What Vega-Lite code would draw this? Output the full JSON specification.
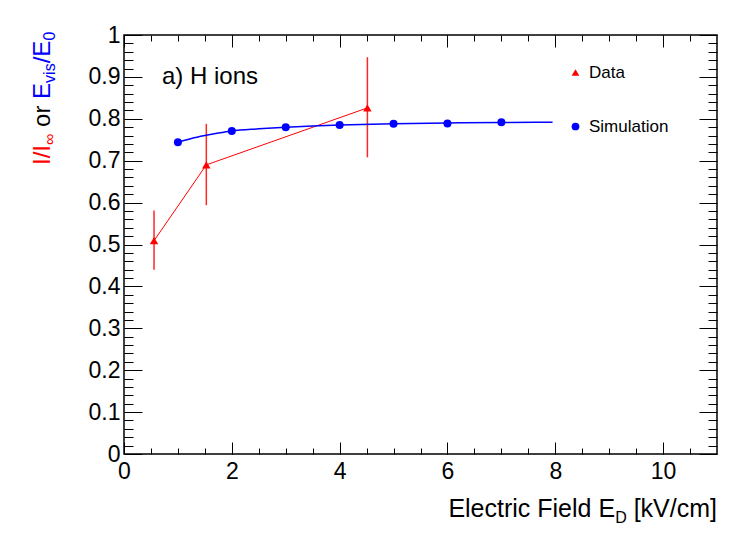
{
  "$schema": "https://vega.github.io/schema/vega-lite/v6.json",
  "width": 593,
  "height": 419,
  "autosize": {"type": "none"},
  "padding": {"left": 124, "top": 35, "right": 33, "bottom": 82},
  "background": "white",
  "datasets": {
    "measured": [
      {"E": 0.557, "R": 0.509, "lo": 0.440, "hi": 0.581, "series": "Data"},
      {"E": 1.527, "R": 0.690, "lo": 0.594, "hi": 0.788, "series": "Data"},
      {"E": 4.515, "R": 0.826, "lo": 0.708, "hi": 0.947, "series": "Data"}
    ],
    "sim": [
      {"E": 1, "R": 0.744, "series": "Simulation"},
      {"E": 2, "R": 0.771, "series": "Simulation"},
      {"E": 3, "R": 0.780, "series": "Simulation"},
      {"E": 4, "R": 0.785, "series": "Simulation"},
      {"E": 5, "R": 0.788, "series": "Simulation"},
      {"E": 6, "R": 0.789, "series": "Simulation"},
      {"E": 7, "R": 0.792, "series": "Simulation"}
    ],
    "fit": [
      {"E": 1.0, "R": 0.744},
      {"E": 1.25, "R": 0.753},
      {"E": 1.5, "R": 0.760},
      {"E": 1.75, "R": 0.766},
      {"E": 2.0, "R": 0.771},
      {"E": 2.5, "R": 0.776},
      {"E": 3.0, "R": 0.780},
      {"E": 3.5, "R": 0.783},
      {"E": 4.0, "R": 0.785},
      {"E": 5.0, "R": 0.788},
      {"E": 6.0, "R": 0.790},
      {"E": 7.0, "R": 0.791},
      {"E": 7.95, "R": 0.792}
    ]
  },
  "config": {
    "font": "Liberation Sans",
    "view": {"stroke": "black", "strokeWidth": 1.5},
    "axis": {
      "grid": false,
      "domain": false,
      "labelFont": "Liberation Sans",
      "labelFontSize": 23,
      "labelColor": "black",
      "tickColor": "black",
      "tickWidth": 1,
      "labelFlush": false,
      "labelOverlap": false
    }
  },
  "resolve": {"axis": {"x": "independent", "y": "independent"}},
  "layer": [
    {
      "data": {"name": "measured"},
      "mark": {"type": "rule", "color": "#ff0000", "strokeWidth": 1.5, "opacity": 0.85},
      "encoding": {
        "x": {"field": "E", "type": "quantitative", "scale": {"domain": [0, 11], "nice": false, "zero": false},
              "axis": {"orient": "bottom", "title": null, "values": [0, 2, 4, 6, 8, 10], "tickSize": -12, "labelPadding": 18, "format": "~f"}},
        "y": {"field": "lo", "type": "quantitative", "scale": {"domain": [0, 1], "nice": false, "zero": false},
              "axis": {"orient": "left", "title": null, "values": [0, 0.1, 0.2, 0.3, 0.4, 0.5, 0.6, 0.7, 0.8, 0.9, 1], "tickSize": -18, "labelPadding": 22, "format": "~f"}},
        "y2": {"field": "hi"}
      }
    },
    {
      "data": {"name": "measured"},
      "mark": {"type": "line", "color": "#ff0000", "strokeWidth": 1},
      "encoding": {
        "x": {"field": "E", "type": "quantitative",
              "axis": {"orient": "bottom", "title": null, "labels": false, "tickSize": -6,
                       "values": [0.5, 1, 1.5, 2, 2.5, 3, 3.5, 4, 4.5, 5, 5.5, 6, 6.5, 7, 7.5, 8, 8.5, 9, 9.5, 10, 10.5]}},
        "y": {"field": "R", "type": "quantitative",
              "axis": {"orient": "left", "title": null, "labels": false, "tickSize": -9,
                       "values": [0.02, 0.04, 0.06, 0.08, 0.12, 0.14, 0.16, 0.18, 0.22, 0.24, 0.26, 0.28, 0.32, 0.34, 0.36, 0.38, 0.42, 0.44, 0.46, 0.48, 0.52, 0.54, 0.56, 0.58, 0.62, 0.64, 0.66, 0.68, 0.72, 0.74, 0.76, 0.78, 0.82, 0.84, 0.86, 0.88, 0.92, 0.94, 0.96, 0.98]}}
      }
    },
    {
      "data": {"name": "fit"},
      "mark": {"type": "line", "color": "#0000ff", "strokeWidth": 1.5, "interpolate": "monotone"},
      "encoding": {
        "x": {"field": "E", "type": "quantitative",
              "axis": {"orient": "top", "title": null, "labels": false, "tickSize": -12, "values": [0, 2, 4, 6, 8, 10]}},
        "y": {"field": "R", "type": "quantitative",
              "axis": {"orient": "right", "title": null, "labels": false, "tickSize": -18, "values": [0, 0.1, 0.2, 0.3, 0.4, 0.5, 0.6, 0.7, 0.8, 0.9, 1]}}
      }
    },
    {
      "data": {"name": "sim"},
      "mark": {"type": "point", "filled": true, "opacity": 1, "size": 64},
      "encoding": {
        "x": {"field": "E", "type": "quantitative",
              "axis": {"orient": "top", "title": null, "labels": false, "tickSize": -6,
                       "values": [0.5, 1, 1.5, 2, 2.5, 3, 3.5, 4, 4.5, 5, 5.5, 6, 6.5, 7, 7.5, 8, 8.5, 9, 9.5, 10, 10.5]}},
        "y": {"field": "R", "type": "quantitative",
              "axis": {"orient": "right", "title": null, "labels": false, "tickSize": -9,
                       "values": [0.02, 0.04, 0.06, 0.08, 0.12, 0.14, 0.16, 0.18, 0.22, 0.24, 0.26, 0.28, 0.32, 0.34, 0.36, 0.38, 0.42, 0.44, 0.46, 0.48, 0.52, 0.54, 0.56, 0.58, 0.62, 0.64, 0.66, 0.68, 0.72, 0.74, 0.76, 0.78, 0.82, 0.84, 0.86, 0.88, 0.92, 0.94, 0.96, 0.98]}},
        "color": {"field": "series", "type": "nominal",
                  "scale": {"domain": ["Data", "Simulation"], "range": ["#ff0000", "#0000ff"]},
                  "legend": {"title": null, "orient": "none", "legendX": 443, "legendY": 29, "padding": 0, "labelFont": "Liberation Sans", "labelFontSize": 17, "labelColor": "black", "labelOffset": 5, "rowPadding": 36, "symbolSize": 60, "symbolStrokeWidth": 0}},
        "shape": {"field": "series", "type": "nominal",
                  "scale": {"domain": ["Data", "Simulation"], "range": ["triangle-up", "circle"]},
                  "legend": {"title": null, "orient": "none", "legendX": 443, "legendY": 29, "padding": 0, "labelFont": "Liberation Sans", "labelFontSize": 17, "labelColor": "black", "labelOffset": 5, "rowPadding": 36, "symbolSize": 60, "symbolStrokeWidth": 0}}
      }
    },
    {
      "data": {"name": "measured"},
      "mark": {"type": "point", "filled": true, "opacity": 1, "size": 70},
      "encoding": {
        "x": {"field": "E", "type": "quantitative", "axis": null},
        "y": {"field": "R", "type": "quantitative", "axis": null},
        "color": {"field": "series", "type": "nominal",
                  "legend": {"title": null, "orient": "none", "legendX": 443, "legendY": 29, "padding": 0, "labelFont": "Liberation Sans", "labelFontSize": 17, "labelColor": "black", "labelOffset": 5, "rowPadding": 36, "symbolSize": 60, "symbolStrokeWidth": 0}},
        "shape": {"field": "series", "type": "nominal",
                  "legend": {"title": null, "orient": "none", "legendX": 443, "legendY": 29, "padding": 0, "labelFont": "Liberation Sans", "labelFontSize": 17, "labelColor": "black", "labelOffset": 5, "rowPadding": 36, "symbolSize": 60, "symbolStrokeWidth": 0}}
      }
    },
    {
      "data": {"values": [{}]},
      "mark": {"type": "text", "text": "a) H ions", "font": "Liberation Sans", "fontSize": 24, "color": "black", "align": "left", "baseline": "alphabetic"},
      "encoding": {"x": {"datum": 0.705, "type": "quantitative", "axis": null}, "y": {"datum": 0.883, "type": "quantitative", "axis": null}}
    },
    {
      "data": {"values": [{}]},
      "mark": {"type": "text", "text": "[kV/cm]", "font": "Liberation Sans", "fontSize": 25, "color": "black", "align": "right", "baseline": "alphabetic"},
      "encoding": {"x": {"datum": 11, "type": "quantitative", "axis": null}, "y": {"datum": -0.1504, "type": "quantitative", "axis": null}}
    },
    {
      "data": {"values": [{}]},
      "mark": {"type": "text", "text": "D", "font": "Liberation Sans", "fontSize": 16, "color": "black", "align": "right", "baseline": "alphabetic", "dx": -90.3, "dy": 6},
      "encoding": {"x": {"datum": 11, "type": "quantitative", "axis": null}, "y": {"datum": -0.1504, "type": "quantitative", "axis": null}}
    },
    {
      "data": {"values": [{}]},
      "mark": {"type": "text", "text": "Electric Field E", "font": "Liberation Sans", "fontSize": 25, "color": "black", "align": "right", "baseline": "alphabetic", "dx": -101.9},
      "encoding": {"x": {"datum": 11, "type": "quantitative", "axis": null}, "y": {"datum": -0.1504, "type": "quantitative", "axis": null}}
    },
    {
      "data": {"values": [{}]},
      "mark": {"type": "text", "text": "I/I", "font": "Liberation Sans", "fontSize": 24, "color": "#ff0000", "angle": 270, "align": "left", "baseline": "alphabetic"},
      "encoding": {"x": {"datum": -1.372, "type": "quantitative", "axis": null}, "y": {"datum": 0.6897, "type": "quantitative", "axis": null}}
    },
    {
      "data": {"values": [{}]},
      "mark": {"type": "text", "text": "∞", "font": "Liberation Sans", "fontSize": 16, "color": "#ff0000", "angle": 270, "align": "left", "baseline": "alphabetic", "dx": 20, "dy": 5},
      "encoding": {"x": {"datum": -1.372, "type": "quantitative", "axis": null}, "y": {"datum": 0.6897, "type": "quantitative", "axis": null}}
    },
    {
      "data": {"values": [{}]},
      "mark": {"type": "text", "text": "or", "font": "Liberation Sans", "fontSize": 24, "color": "black", "angle": 270, "align": "left", "baseline": "alphabetic", "dx": 38.1},
      "encoding": {"x": {"datum": -1.372, "type": "quantitative", "axis": null}, "y": {"datum": 0.6897, "type": "quantitative", "axis": null}}
    },
    {
      "data": {"values": [{}]},
      "mark": {"type": "text", "text": "E", "font": "Liberation Sans", "fontSize": 24, "color": "#0000ff", "angle": 270, "align": "left", "baseline": "alphabetic", "dx": 66.1},
      "encoding": {"x": {"datum": -1.372, "type": "quantitative", "axis": null}, "y": {"datum": 0.6897, "type": "quantitative", "axis": null}}
    },
    {
      "data": {"values": [{}]},
      "mark": {"type": "text", "text": "vis", "font": "Liberation Sans", "fontSize": 16, "color": "#0000ff", "angle": 270, "align": "left", "baseline": "alphabetic", "dx": 82.1, "dy": 5},
      "encoding": {"x": {"datum": -1.372, "type": "quantitative", "axis": null}, "y": {"datum": 0.6897, "type": "quantitative", "axis": null}}
    },
    {
      "data": {"values": [{}]},
      "mark": {"type": "text", "text": "/E", "font": "Liberation Sans", "fontSize": 24, "color": "#0000ff", "angle": 270, "align": "left", "baseline": "alphabetic", "dx": 101.7},
      "encoding": {"x": {"datum": -1.372, "type": "quantitative", "axis": null}, "y": {"datum": 0.6897, "type": "quantitative", "axis": null}}
    },
    {
      "data": {"values": [{}]},
      "mark": {"type": "text", "text": "0", "font": "Liberation Sans", "fontSize": 16, "color": "#0000ff", "angle": 270, "align": "left", "baseline": "alphabetic", "dx": 124.4, "dy": 5},
      "encoding": {"x": {"datum": -1.372, "type": "quantitative", "axis": null}, "y": {"datum": 0.6897, "type": "quantitative", "axis": null}}
    }
  ]
}
